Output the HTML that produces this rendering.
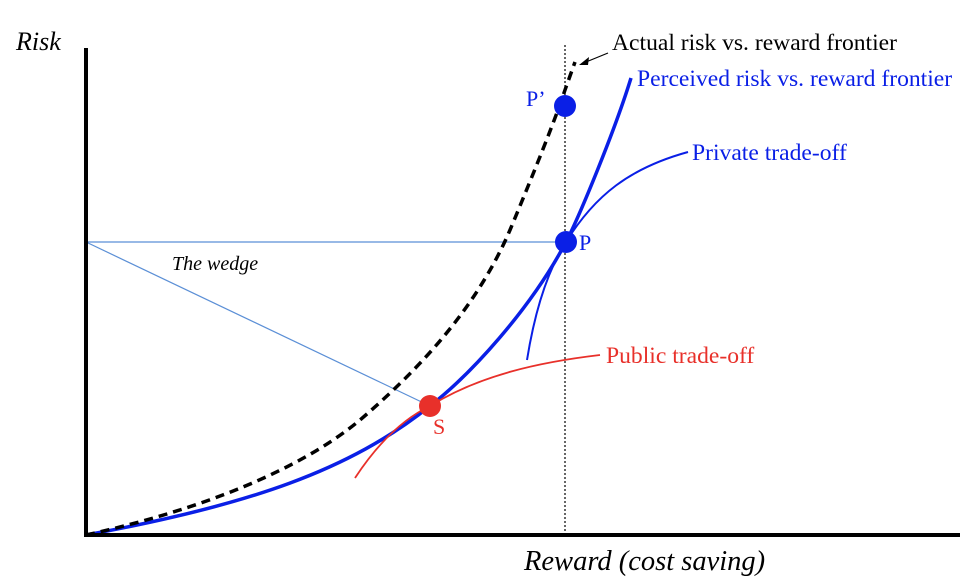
<!DOCTYPE html>
<html><head><style>body{margin:0;background:#fff}svg{display:block}</style></head><body>
<svg width="960" height="583" viewBox="0 0 960 583" xmlns="http://www.w3.org/2000/svg" font-family="Liberation Serif, serif">
<rect width="960" height="583" fill="#fff"/>
<line x1="565" y1="45" x2="565" y2="535" stroke="#000" stroke-width="1.2" stroke-dasharray="2,2"/>
<line x1="86" y1="242" x2="566" y2="242" stroke="#5b8fd6" stroke-width="1.2"/>
<line x1="86" y1="242" x2="430" y2="406" stroke="#5b8fd6" stroke-width="1.2"/>
<path d="M86,535 C250,505 350,470 430,406 C470,375 530,310 566,242 C580,215 615,130 631,78" fill="none" stroke="#0a1fe6" stroke-width="3.5"/>
<path d="M86,535 C200,510 300,470 360,420 C430,360 480,300 510,230 C535,170 555,120 565,90 L575,62" fill="none" stroke="#000" stroke-width="3.5" stroke-dasharray="9,6"/>
<path d="M527,360 C535,310 548,270 566,242 C595,195 630,168 688,152" fill="none" stroke="#0a1fe6" stroke-width="2"/>
<path d="M355,478 C380,440 405,418 430,406 C480,375 540,362 600,355" fill="none" stroke="#e8302a" stroke-width="1.8"/>
<line x1="86" y1="48" x2="86" y2="537" stroke="#000" stroke-width="4"/>
<line x1="84" y1="535" x2="960" y2="535" stroke="#000" stroke-width="4"/>
<line x1="608" y1="53" x2="586" y2="62" stroke="#000" stroke-width="1.2"/>
<path d="M579,65 L589,57 L588,65 Z" fill="#000"/>
<circle cx="565" cy="106" r="11" fill="#0a1fe6"/>
<circle cx="566" cy="242" r="11" fill="#0a1fe6"/>
<circle cx="430" cy="406" r="11" fill="#e8302a"/>
<text x="16" y="50" font-size="26" font-style="italic">Risk</text>
<text x="524" y="570" font-size="28.5" font-style="italic">Reward (cost saving)</text>
<text x="612" y="50" font-size="23.6">Actual risk vs. reward frontier</text>
<text x="637" y="86" font-size="23.6" fill="#0a1fe6">Perceived risk vs. reward frontier</text>
<text x="692" y="160" font-size="23.6" fill="#0a1fe6">Private trade-off</text>
<text x="606" y="363" font-size="23.6" fill="#e8302a">Public trade-off</text>
<text x="526" y="106" font-size="22" fill="#0a1fe6">P’</text>
<text x="579" y="250" font-size="22" fill="#0a1fe6">P</text>
<text x="433" y="434" font-size="22" fill="#e8302a">S</text>
<text x="172" y="270" font-size="20" font-style="italic">The wedge</text>
</svg>
</body></html>
